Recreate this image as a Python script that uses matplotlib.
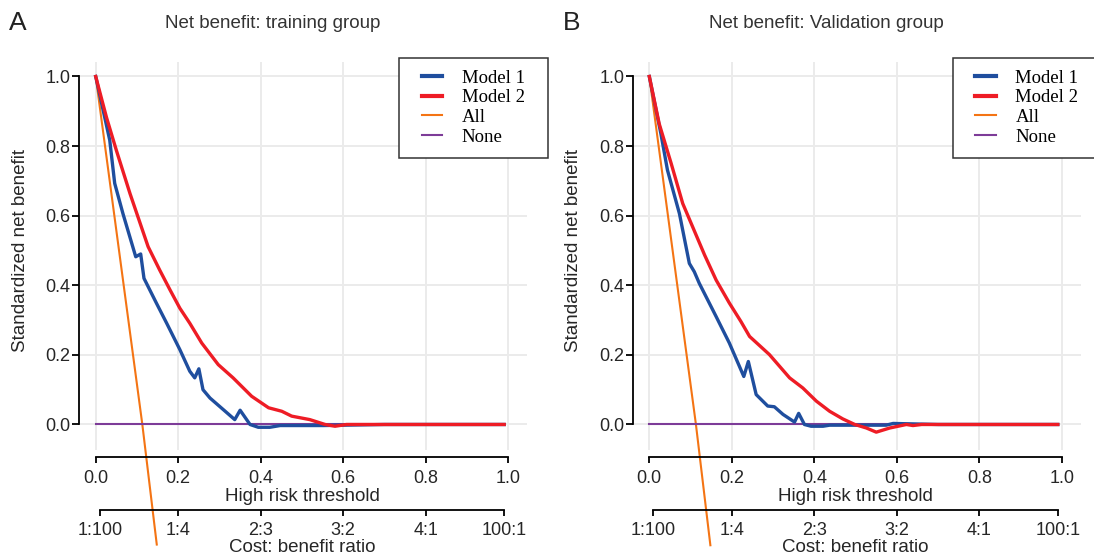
import matplotlib.pyplot as plt
from matplotlib.lines import Line2D
from matplotlib.legend_handler import HandlerLine2D

# tick values / labels
thr_ticks = [0.0, 0.2, 0.4, 0.6, 0.8, 1.0]
thr_labels = ['0.0', '0.2', '0.4', '0.6', '0.8', '1.0']
nb_ticks = [0.0, 0.2, 0.4, 0.6, 0.8, 1.0]
nb_labels = ['0.0', '0.2', '0.4', '0.6', '0.8', '1.0']
cost_ticks = [1 / 101, 0.2, 0.4, 0.6, 0.8, 100 / 101]
cost_labels = ['1:100', '1:4', '2:3', '3:2', '4:1', '100:1']

# training group
train_m1_x = [0.0, 0.034, 0.046, 0.066, 0.097, 0.109, 0.117, 0.147, 0.172, 0.204, 0.228,
              0.240, 0.250, 0.260, 0.277, 0.309, 0.337, 0.350, 0.374, 0.394, 0.422, 0.447,
              0.552, 0.70, 0.99]
train_m1_y = [1.0, 0.817, 0.693, 0.606, 0.482, 0.490, 0.420, 0.349, 0.291, 0.215, 0.153,
              0.134, 0.160, 0.100, 0.076, 0.043, 0.014, 0.041, 0.0, -0.008, -0.008, -0.003,
              -0.003, 0.0, 0.0]
train_m2_x = [0.0, 0.026, 0.050, 0.083, 0.127, 0.155, 0.180, 0.204, 0.228, 0.257, 0.297,
              0.333, 0.378, 0.419, 0.451, 0.475, 0.519, 0.556, 0.580, 0.608, 0.75, 0.99]
train_m2_y = [1.0, 0.883, 0.788, 0.664, 0.511, 0.444, 0.387, 0.334, 0.291, 0.234, 0.172,
              0.134, 0.081, 0.048, 0.038, 0.024, 0.014, 0.0, -0.005, 0.0, 0.0, 0.0]
train_all_x = [0.0, 0.113, 0.148]
train_all_y = [1.0, 0.0, -0.345]
train_none_x = [0.0, 0.99]
train_none_y = [0.0, 0.0]

# validation group
valid_m1_x = [0.0, 0.028, 0.044, 0.073, 0.097, 0.109, 0.121, 0.162, 0.194, 0.229, 0.240,
              0.259, 0.287, 0.303, 0.324, 0.352, 0.362, 0.376, 0.392, 0.421, 0.437, 0.574,
              0.591, 0.70, 0.99]
valid_m1_y = [1.0, 0.836, 0.731, 0.606, 0.463, 0.439, 0.406, 0.310, 0.234, 0.138, 0.181,
              0.086, 0.053, 0.051, 0.029, 0.007, 0.032, 0.0, -0.005, -0.005, -0.002, -0.002,
              0.003, 0.0, 0.0]
valid_m2_x = [0.0, 0.024, 0.053, 0.081, 0.105, 0.134, 0.162, 0.194, 0.222, 0.243, 0.291,
              0.340, 0.372, 0.405, 0.437, 0.469, 0.498, 0.526, 0.550, 0.583, 0.623, 0.639,
              0.66, 0.99]
valid_m2_y = [1.0, 0.864, 0.750, 0.635, 0.568, 0.487, 0.415, 0.349, 0.296, 0.253, 0.201,
              0.134, 0.105, 0.067, 0.038, 0.016, 0.0, -0.010, -0.022, -0.010, 0.0, -0.003,
              0.0, 0.0]
valid_all_x = [0.0, 0.113, 0.148]
valid_all_y = [1.0, 0.0, -0.347]
valid_none_x = [0.0, 0.99]
valid_none_y = [0.0, 0.0]

c_m1 = '#1f4e9e'
c_m2 = '#ee1c25'
c_all = '#f47414'
c_none = '#7d3c98'
txt = '#262626'

plt.rcParams['font.family'] = ['Liberation Sans', 'DejaVu Sans']

W, H = 1094, 556
fig = plt.figure(figsize=(W / 100, H / 100), dpi=100)


def panel(left_px, title, letter, m1x, m1y, m2x, m2y, allx, ally, nonex, noney):
    ax = fig.add_axes([left_px / W, 106 / H, 448 / W, 388.3 / H])
    ax.set_xlim(-0.0405, 1.0453)
    ax.set_ylim(-0.0733, 1.0425)
    ax.set_xticks(thr_ticks)
    ax.set_xticklabels(thr_labels)
    ax.set_yticks(nb_ticks)
    ax.set_yticklabels(nb_labels)
    ax.grid(True, color='#ebebeb', lw=1.4)
    ax.set_axisbelow(True)
    for s in ['top', 'right']:
        ax.spines[s].set_visible(False)
    ax.spines['left'].set_bounds(0, 1)
    ax.spines['bottom'].set_bounds(0, 1)
    ax.spines['bottom'].set_position(('outward', 5.3))
    for s in ['left', 'bottom']:
        ax.spines[s].set_linewidth(1.3)
        ax.spines[s].set_color('black')
    ax.tick_params(axis='y', length=5, width=1.3, labelsize=13, pad=1, labelcolor=txt)
    ax.tick_params(axis='x', length=4, width=1.3, labelsize=13, pad=4.8, labelcolor=txt)

    l1, = ax.plot(m1x, m1y, color=c_m1, lw=2.4, label='Model 1', zorder=3)
    l2, = ax.plot(m2x, m2y, color=c_m2, lw=2.4, label='Model 2', zorder=4)
    l3, = ax.plot(allx, ally, color=c_all, lw=1.5, label='All', clip_on=False)
    l4, = ax.plot(nonex, noney, color=c_none, lw=1.5, label='None')

    ax.set_ylabel('Standardized net benefit', fontsize=13.5, color=txt)
    ax.yaxis.set_label_coords(-0.112, 0.514)
    ax.set_xlabel('High risk threshold', fontsize=13.5, color=txt, va='center')
    ax.xaxis.set_label_coords(0.498, -0.121)

    ax2 = ax.twiny()
    ax2.set_xlim(ax.get_xlim())
    for s in ['top', 'left', 'right']:
        ax2.spines[s].set_visible(False)
    ax2.xaxis.set_ticks_position('bottom')
    ax2.xaxis.set_label_position('bottom')
    ax2.spines['bottom'].set_position(('outward', 43.2))
    ax2.spines['bottom'].set_bounds(cost_ticks[0], cost_ticks[-1])
    ax2.spines['bottom'].set_linewidth(1.3)
    ax2.set_xticks(cost_ticks)
    ax2.set_xticklabels(cost_labels)
    ax2.tick_params(axis='x', length=4, width=1.3, labelsize=13, pad=4.8, labelcolor=txt)
    ax2.set_xlabel('Cost: benefit ratio', fontsize=13.5, color=txt, va='center')
    ax2.xaxis.set_label_coords(0.498, -0.250)

    top = 1 - 57.5 / H
    leg = ax.legend(handles=[l1, l2, l3, l4], loc='upper left',
                    bbox_to_anchor=((left_px + 320) / W, top - 0.2, 149 / W, 0.2),
                    bbox_transform=fig.transFigure, borderaxespad=0, mode='expand',
                    prop={'family': 'Liberation Serif', 'size': 13.5},
                    frameon=True, fancybox=False, framealpha=1, edgecolor='#333333',
                    handlelength=1.65, handletextpad=1.05, labelspacing=0.13,
                    borderpad=0.65,
                    handler_map={Line2D: HandlerLine2D(xpad=0.55)})
    leg.get_frame().set_linewidth(1.1)
    leg.set_zorder(10)
    for h in leg.get_lines()[:2]:
        h.set_linewidth(3.0)

    fig.text((left_px - 79 + 273) / W, 1 - 23 / H, title, ha='center', va='center',
             fontsize=13.5, color='#333333')
    fig.text((left_px - 79 + 18) / W, 1 - 23 / H, letter, ha='center', va='center',
             fontsize=19, color='#222222')
    return ax


panel(79, 'Net benefit: training group', 'A',
      train_m1_x, train_m1_y, train_m2_x, train_m2_y,
      train_all_x, train_all_y, train_none_x, train_none_y)
panel(632.6, 'Net benefit: Validation group', 'B',
      valid_m1_x, valid_m1_y, valid_m2_x, valid_m2_y,
      valid_all_x, valid_all_y, valid_none_x, valid_none_y)

fig.savefig('out.png', dpi=100)
